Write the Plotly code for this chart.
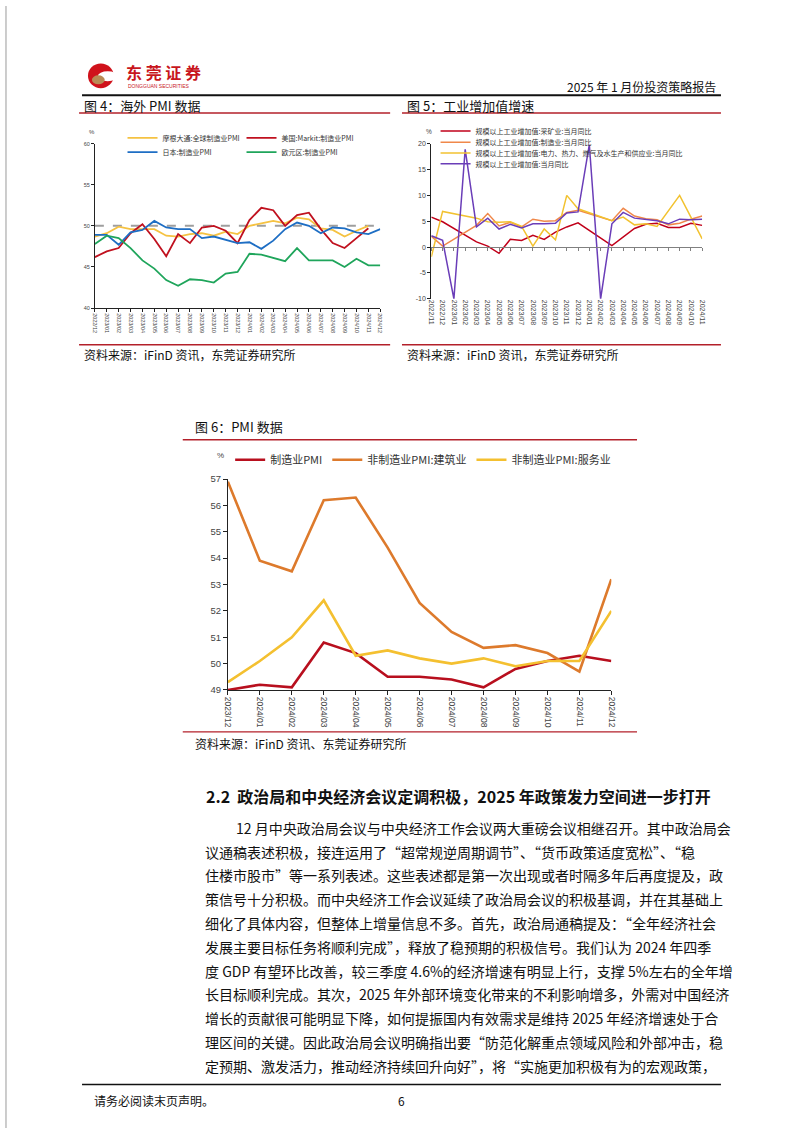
import plotly.graph_objects as go

W, H = 802, 1133


def fx(x):
    return x / W


def fy(y):
    return 1 - y / H


CJK = "Noto Sans CJK SC"
NUM = "Liberation Sans"

# ---------------- Figure 4: overseas PMI ----------------
months4 = ["2022/12", "2023/01", "2023/02", "2023/03", "2023/04", "2023/05", "2023/06",
           "2023/07", "2023/08", "2023/09", "2023/10", "2023/11", "2023/12", "2024/01",
           "2024/02", "2024/03", "2024/04", "2024/05", "2024/06", "2024/07", "2024/08",
           "2024/09", "2024/10", "2024/11", "2024/12"]
jpm_global = [48.7, 49.1, 49.9, 49.6, 49.6, 49.6, 48.8, 48.7, 49.0, 49.1, 48.8, 49.3, 49.0,
              50.0, 50.3, 50.6, 50.3, 51.0, 50.8, 49.7, 49.5, 48.7, 49.4, 50.0, None]
us_markit = [46.2, 46.9, 47.3, 49.1, 50.2, 48.4, 46.3, 49.0, 47.9, 49.8, 50.0, 49.4, 47.9,
             50.7, 52.2, 51.9, 50.0, 51.3, 51.6, 49.6, 47.9, 47.3, 48.5, 49.7, None]
japan_pmi = [48.9, 48.9, 47.7, 49.2, 49.5, 50.6, 49.8, 49.6, 49.6, 48.5, 48.7, 48.3, 47.9,
             48.0, 47.2, 48.2, 49.6, 50.4, 50.0, 49.1, 49.8, 49.7, 49.2, 49.0, 49.6]
euro_pmi = [47.8, 48.8, 48.5, 47.3, 45.8, 44.8, 43.4, 42.7, 43.5, 43.4, 43.1, 44.2, 44.4,
            46.6, 46.5, 46.1, 45.7, 47.3, 45.8, 45.8, 45.8, 45.0, 46.0, 45.2, 45.2]
names4 = ["摩根大通:全球制造业PMI", "美国:Markit:制造业PMI", "日本:制造业PMI", "欧元区:制造业PMI"]
yticks4 = [40, 45, 50, 55, 60]
ref_level4 = 50

# ---------------- Figure 5: industrial value added ----------------
months5 = ["2022/11", "2022/12", "2023/01", "2023/02", "2023/03", "2023/04", "2023/05",
           "2023/06", "2023/07", "2023/08", "2023/09", "2023/10", "2023/11", "2023/12",
           "2024/01", "2024/02", "2024/03", "2024/04", "2024/05", "2024/06", "2024/07",
           "2024/08", "2024/09", "2024/10", "2024/11"]
mining = [5.8, 4.9, None, None, 1.0, 0.2, -1.2, 1.5, 1.3, 2.3, 1.5, 2.9, 3.9, 4.7,
          None, None, 0.3, 2.0, 3.6, 4.4, 4.6, 3.8, 3.8, 4.6, 4.2]
manufacturing = [2.1, 0.2, None, None, 4.2, 6.5, 4.1, 4.8, 3.9, 5.4, 5.0, 5.1, 6.7, 7.1,
                 None, None, 5.1, 7.5, 6.0, 5.5, 5.3, 4.3, 4.6, 5.4, 6.0]
utilities = [-1.9, 6.9, None, None, 5.6, 4.9, 4.8, 4.9, 4.0, 0.2, 3.5, 1.4, 10.0, 7.4,
             None, None, 5.1, 5.8, 4.3, 4.5, 4.0, 7.0, 10.0, 5.8, 1.6]
total_iva = [2.2, 1.3, -10.0, 18.9, 3.9, 5.6, 3.5, 4.4, 3.7, 4.5, 4.5, 4.6, 6.6, 6.8,
             19.8, -10.0, 4.5, 6.7, 5.6, 5.3, 5.1, 4.5, 5.4, 5.3, 5.4]
names5 = ["规模以上工业增加值:采矿业:当月同比", "规模以上工业增加值:制造业:当月同比",
          "规模以上工业增加值:电力、热力、燃气及水生产和供应业:当月同比", "规模以上工业增加值:当月同比"]
yticks5 = [-10, -5, 0, 5, 10, 15, 20]

# ---------------- Figure 6: China PMI ----------------
months6 = ["2023/12", "2024/01", "2024/02", "2024/03", "2024/04", "2024/05", "2024/06",
           "2024/07", "2024/08", "2024/09", "2024/10", "2024/11", "2024/12"]
mfg_pmi = [49.0, 49.2, 49.1, 50.8, 50.4, 49.5, 49.5, 49.4, 49.1, 49.8, 50.1, 50.3, 50.1]
construction_pmi = [56.9, 53.9, 53.5, 56.2, 56.3, 54.4, 52.3, 51.2, 50.6, 50.7, 50.4, 49.7, 53.2]
services_pmi = [49.3, 50.1, 51.0, 52.4, 50.3, 50.5, 50.2, 50.0, 50.2, 49.9, 50.1, 50.1, 52.0]
names6 = ["制造业PMI", "非制造业PMI:建筑业", "非制造业PMI:服务业"]
yticks6 = [49, 50, 51, 52, 53, 54, 55, 56, 57]

# ---------------- Text ----------------
heading = "<b>2.2  政治局和中央经济会议定调积极，2025 年政策发力空间进一步打开</b>"
body_lines = [
    "12 月中央政治局会议与中央经济工作会议两大重磅会议相继召开。其中政治局会",
    "议通稿表述积极，接连运用了“超常规逆周期调节”、“货币政策适度宽松”、“稳",
    "住楼市股市”等一系列表述。这些表述都是第一次出现或者时隔多年后再度提及，政",
    "策信号十分积极。而中央经济工作会议延续了政治局会议的积极基调，并在其基础上",
    "细化了具体内容，但整体上增量信息不多。首先，政治局通稿提及：“全年经济社会",
    "发展主要目标任务将顺利完成”，释放了稳预期的积极信号。我们认为 2024 年四季",
    "度 GDP 有望环比改善，较三季度 4.6%的经济增速有明显上行，支撑 5%左右的全年增",
    "长目标顺利完成。其次，2025 年外部环境变化带来的不利影响增多，外需对中国经济",
    "增长的贡献很可能明显下降，如何提振国内有效需求是维持 2025 年经济增速处于合",
    "理区间的关键。因此政治局会议明确指出要“防范化解重点领域风险和外部冲击，稳",
    "定预期、激发活力，推动经济持续回升向好”，将“实施更加积极有为的宏观政策，",
]

fig = go.Figure()

idx4 = list(range(len(months4)))
idx5 = list(range(len(months5)))
idx6 = list(range(len(months6)))

# Fig 4 traces
for series, name, color, lg in [
    (jpm_global, names4[0], "#F5C242", "legend"),
    (us_markit, names4[1], "#C0111F", "legend"),
    (japan_pmi, names4[2], "#1E6EC4", "legend2"),
    (euro_pmi, names4[3], "#1FA55B", "legend2"),
]:
    fig.add_trace(go.Scatter(x=idx4, y=series, name=name, mode="lines",
                             line=dict(color=color, width=1.8), xaxis="x", yaxis="y",
                             legend=lg, hoverinfo="skip"))

# Fig 5 traces
for series, name, color, lg, xa in [
    (mining, names5[0], "#C0001A", "legend3", "x2"),
    (manufacturing, names5[1], "#F0884A", "legend4", "x2"),
    (utilities, names5[2], "#F2C230", "legend5", "x2"),
    (total_iva, names5[3], "#6A3DB8", "legend6", "x3"),
]:
    fig.add_trace(go.Scatter(x=idx5, y=series, name=name, mode="lines", connectgaps=True,
                             line=dict(color=color, width=1.5), xaxis=xa, yaxis="y2",
                             legend=lg, hoverinfo="skip"))

# Fig 6 traces
for series, name, color in [
    (mfg_pmi, names6[0], "#B80F1E"),
    (construction_pmi, names6[1], "#DD7A2C"),
    (services_pmi, names6[2], "#F4C030"),
]:
    fig.add_trace(go.Scatter(x=idx6, y=series, name=name, mode="lines",
                             line=dict(color=color, width=2.6), xaxis="x4", yaxis="y4",
                             legend="legend7", hoverinfo="skip"))

axis_common = dict(showgrid=False, zeroline=False, fixedrange=True)

fig.update_layout(
    width=W, height=H, margin=dict(l=0, r=0, t=0, b=0),
    paper_bgcolor="white", plot_bgcolor="rgba(0,0,0,0)", showlegend=True,
    font=dict(family=CJK, color="#222"),
    # Fig 4
    xaxis=dict(domain=[fx(91), fx(380)], range=[0, len(months4) - 1], anchor="y",
               tickvals=idx4, ticktext=months4, tickangle=90,
               tickfont=dict(family=NUM, size=5.5, color="#444"),
               showline=True, linecolor="#222", linewidth=1, ticks="outside", ticklen=3,
               tickcolor="#222", **axis_common),
    yaxis=dict(domain=[fy(305), fy(139)], range=[yticks4[0], yticks4[-1]], anchor="x",
               tickvals=yticks4, tickfont=dict(family=NUM, size=5.5, color="#444"),
               showline=True, linecolor="#222", linewidth=1, ticks="outside", ticklen=3,
               tickcolor="#222", **axis_common),
    # Fig 5 (labels at bottom)
    xaxis2=dict(domain=[fx(431.7), fx(706)], range=[0, len(months5) - 1], anchor="y2",
                tickvals=idx5, ticktext=months5, tickangle=90,
                tickfont=dict(family=NUM, size=7, color="#444"),
                showline=False, ticks="", **axis_common),
    # Fig 5 zero line axis with ticks
    xaxis3=dict(domain=[fx(431.7), fx(706)], range=[0, len(months5) - 1], overlaying="x2",
                anchor="free", position=fy(243.5), tickvals=idx5, showticklabels=False,
                showline=True, linecolor="#808080", linewidth=1.3, ticks="outside",
                ticklen=3, tickcolor="#808080", **axis_common),
    yaxis2=dict(domain=[fy(295.7), fy(139)], range=[yticks5[0], yticks5[-1]], anchor="x2",
                tickvals=yticks5, ticktext=[str(v) for v in yticks5],
                tickfont=dict(family=NUM, size=7, color="#444"),
                showline=True, linecolor="#222", linewidth=1, ticks="outside", ticklen=3,
                tickcolor="#222", **axis_common),
    # Fig 6
    xaxis4=dict(domain=[fx(225.7), fx(614)], range=[0, len(months6) - 1], anchor="y4",
                tickvals=idx6, ticktext=months6, tickangle=90,
                tickfont=dict(family=NUM, size=8.5, color="#444"),
                showline=True, linecolor="#222", linewidth=1, ticks="outside", ticklen=4,
                tickcolor="#222", **axis_common),
    yaxis4=dict(domain=[fy(690.7), fy(477.7)], range=[yticks6[0], yticks6[-1]], anchor="x4",
                tickvals=yticks6, tickfont=dict(family=NUM, size=9.5, color="#444"),
                showline=True, linecolor="#222", linewidth=1, ticks="outside", ticklen=4,
                tickcolor="#222", **axis_common),
)

legend_common = dict(xanchor="left", yanchor="top", bgcolor="rgba(0,0,0,0)", borderwidth=0,
                     font=dict(family=CJK, size=7, color="#333"))
OFF = 19.5
fig.update_layout(
    legend=dict(x=fx(119), y=fy(138 - OFF), orientation="h", entrywidth=74, **legend_common),
    legend2=dict(x=fx(119), y=fy(152.5 - OFF), orientation="h", entrywidth=74, **legend_common),
    legend3=dict(x=fx(436), y=fy(131 - OFF), orientation="v", **legend_common),
    legend4=dict(x=fx(436), y=fy(142.5 - OFF), orientation="v", **legend_common),
    legend5=dict(x=fx(436), y=fy(153.3 - OFF), orientation="v", **legend_common),
    legend6=dict(x=fx(436), y=fy(164.2 - OFF), orientation="v", **legend_common),
    legend7=dict(x=fx(228), y=fy(460 - 16.5), orientation="h", xanchor="left", yanchor="top",
                 bgcolor="rgba(0,0,0,0)", borderwidth=0,
                 font=dict(family=CJK, size=11, color="#333")),
)

# reference dashed line on Fig 4
fig.add_shape(type="line", xref="x domain", yref="y", x0=0, x1=1, y0=ref_level4, y1=ref_level4,
              line=dict(color="#9E9E9E", width=2, dash="dash"), layer="below")

# page decorations
RED = "#B3202A"


def hline(x0, x1, y, color, width):
    fig.add_shape(type="line", xref="paper", yref="paper", x0=fx(x0), x1=fx(x1),
                  y0=fy(y), y1=fy(y), line=dict(color=color, width=width))


hline(78, 725, 90, "#111", 2)          # header rule
hline(75, 390, 108, RED, 1.4)          # fig4 title rule
hline(402, 725, 108, RED, 1.4)         # fig5 title rule
hline(75, 390, 342, RED, 1.4)          # fig4 source rule
hline(402, 725, 342, RED, 1.4)         # fig5 source rule
hline(180, 640, 438, RED, 1.4)         # fig6 title rule
hline(180, 640, 733, RED, 1.4)         # fig6 source rule
hline(78, 725, 1089, "#111", 1.5)      # footer rule
fig.add_shape(type="line", xref="paper", yref="paper", x0=fx(1), x1=fx(1), y0=0, y1=1,
              line=dict(color="#9a9a9a", width=1))

# logo
fig.add_shape(type="circle", xref="paper", yref="paper", x0=fx(84), x1=fx(110), y0=fy(83),
              y1=fy(58), fillcolor="#D0121B", line=dict(width=0))
fig.add_shape(type="circle", xref="paper", yref="paper", x0=fx(94), x1=fx(114), y0=fy(76),
              y1=fy(66), fillcolor="white", line=dict(width=0))
fig.add_shape(type="circle", xref="paper", yref="paper", x0=fx(88), x1=fx(101), y0=fy(79),
              y1=fy(70), fillcolor="#B98A55", line=dict(width=0))


def text(x, y, s, size, color="#222", anchor="left", family=CJK):
    fig.add_annotation(x=fx(x), y=fy(y), xref="paper", yref="paper", text=s, showarrow=False,
                       xanchor=anchor, yanchor="middle",
                       font=dict(family=family, size=size, color=color))


text(120, 67, "<b>东 莞 证 券</b>", 16, "#C8161D")
text(123, 81, "DONGGUAN SECURITIES", 5, "#C8161D", family=NUM)
text(722, 81, "2025 年 1 月份投资策略报告", 12, "#111", anchor="right")

text(78, 100, "图 4：海外 PMI 数据", 13, "#111")
text(405, 100, "图 5：工业增加值增速", 13, "#111")
text(78, 352, "资料来源：iFinD 资讯，东莞证券研究所", 12, "#111")
text(405, 352, "资料来源：iFinD 资讯，东莞证券研究所", 12, "#111")
text(190, 425, "图 6：PMI 数据", 13, "#111")
text(190, 745, "资料来源：iFinD 资讯、东莞证券研究所", 12, "#111")

text(83, 127, "%", 6, "#444", family=NUM)
text(424, 127, "%", 6.5, "#444", family=NUM)
text(213, 454, "%", 8, "#444", family=NUM)

text(202, 798, heading, 16, "#111")
for i, line in enumerate(body_lines):
    text(232 if i == 0 else 200, 830 + 24 * i, line, 14, "#111")

text(88, 1105, "请务必阅读末页声明。", 12, "#111")
text(401, 1105, "6", 12, "#111", anchor="center")

fig.write_html("out.html")
